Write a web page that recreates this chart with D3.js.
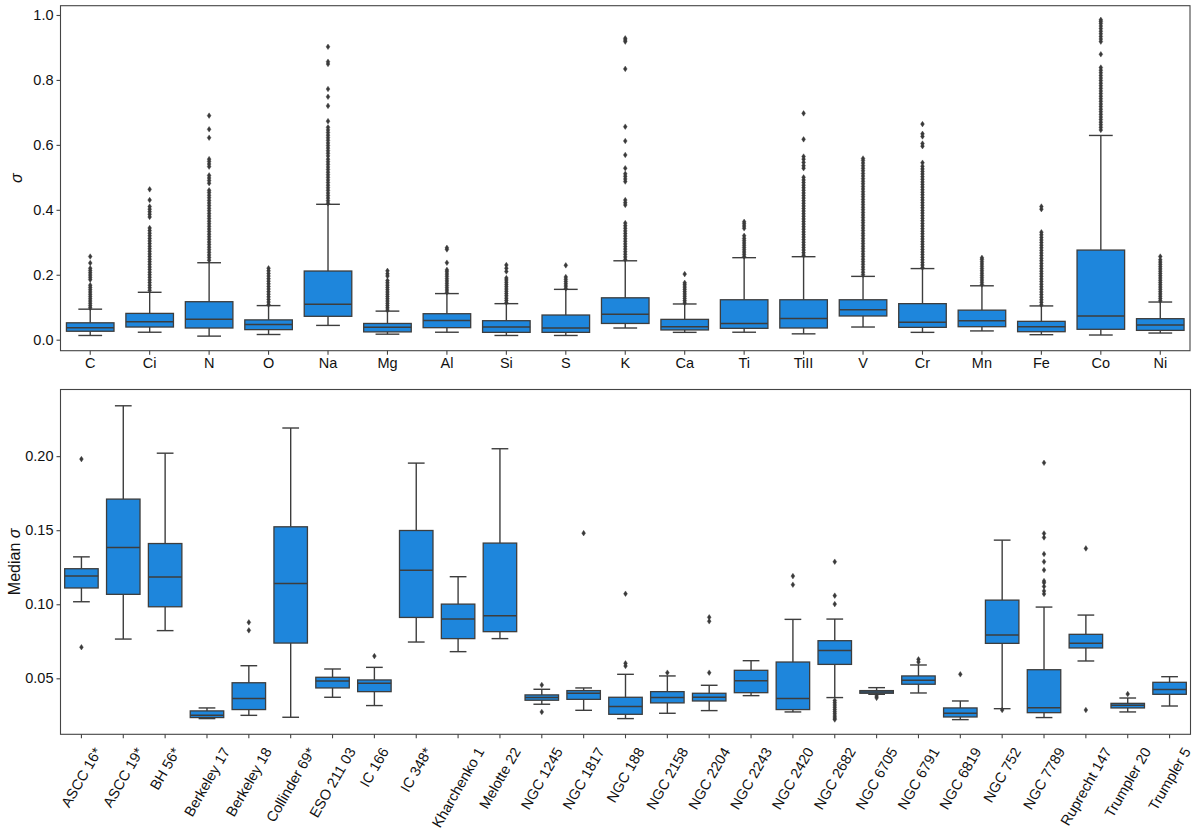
<!DOCTYPE html>
<html><head><meta charset="utf-8">
<script src="https://cdn.jsdelivr.net/npm/d3@7"></script>
<style>
body{margin:0;background:#fff;}
text{font-family:"Liberation Sans",Arial,sans-serif;fill:#111;}
</style></head>
<body><svg id="chart" width="1200" height="835"></svg>
<script>
// ---------- Top panel data ----------
const elements = ["C","Ci","N","O","Na","Mg","Al","Si","S","K","Ca","Ti","TiII","V","Cr","Mn","Fe","Co","Ni"];
// [whiskerLow, Q1, median, Q3, whiskerHigh]
const elemStats = [
  [0.013,0.026,0.037,0.052,0.094],
  [0.023,0.039,0.055,0.081,0.146],
  [0.011,0.036,0.063,0.117,0.237],
  [0.016,0.031,0.047,0.061,0.105],
  [0.044,0.072,0.109,0.2115,0.417],
  [0.017,0.024,0.038,0.050,0.088],
  [0.023,0.037,0.059,0.080,0.142],
  [0.013,0.0226,0.039,0.0585,0.111],
  [0.013,0.0226,0.036,0.076,0.155],
  [0.036,0.050,0.078,0.129,0.243],
  [0.0226,0.030,0.040,0.0626,0.110],
  [0.023,0.035,0.050,0.123,0.2526],
  [0.018,0.036,0.065,0.123,0.2556],
  [0.039,0.073,0.092,0.123,0.195],
  [0.0226,0.038,0.054,0.111,0.219],
  [0.027,0.040,0.0585,0.091,0.166],
  [0.0154,0.0246,0.040,0.0565,0.104],
  [0.0144,0.032,0.073,0.276,0.629],
  [0.0205,0.0287,0.045,0.0647,0.116]
];
const elemOutliers = [
  [0.098,0.105,0.112,0.119,0.126,0.133,0.14,0.147,0.154,0.161,0.168,0.185,0.192,0.199,0.206,0.213,0.22,0.236,0.256],
  [0.152,0.16,0.168,0.176,0.184,0.192,0.2,0.208,0.216,0.224,0.232,0.24,0.248,0.256,0.264,0.272,0.28,0.288,0.296,0.304,0.312,0.32,0.328,0.336,0.344,0.378,0.386,0.394,0.402,0.41,0.43,0.463],
  [0.245,0.253,0.261,0.269,0.277,0.285,0.293,0.301,0.309,0.317,0.325,0.333,0.341,0.349,0.357,0.365,0.373,0.381,0.389,0.397,0.405,0.413,0.421,0.429,0.437,0.445,0.453,0.46,0.482,0.49,0.498,0.506,0.533,0.541,0.549,0.556,0.622,0.648,0.69],
  [0.108,0.116,0.124,0.132,0.14,0.148,0.156,0.164,0.172,0.18,0.188,0.196,0.204,0.212,0.22],
  [0.42,0.428,0.436,0.444,0.452,0.46,0.468,0.476,0.484,0.492,0.5,0.508,0.516,0.524,0.532,0.54,0.548,0.556,0.566,0.574,0.582,0.59,0.598,0.606,0.614,0.622,0.63,0.638,0.646,0.654,0.673,0.72,0.748,0.772,0.849,0.856,0.902],
  [0.091,0.098,0.105,0.112,0.119,0.126,0.133,0.14,0.147,0.154,0.161,0.168,0.175,0.182,0.196,0.203,0.212],
  [0.146,0.153,0.16,0.167,0.174,0.181,0.188,0.195,0.202,0.209,0.215,0.237,0.278,0.283],
  [0.114,0.121,0.128,0.135,0.142,0.149,0.156,0.163,0.17,0.177,0.184,0.19,0.21,0.22,0.23],
  [0.158,0.165,0.172,0.179,0.186,0.193,0.229],
  [0.247,0.255,0.263,0.271,0.279,0.287,0.295,0.303,0.311,0.319,0.327,0.335,0.343,0.351,0.359,0.415,0.422,0.43,0.487,0.495,0.503,0.511,0.528,0.569,0.612,0.656,0.834,0.918,0.923,0.928],
  [0.113,0.12,0.127,0.134,0.141,0.148,0.155,0.162,0.169,0.175,0.202],
  [0.256,0.263,0.27,0.277,0.284,0.291,0.298,0.305,0.312,0.32,0.343,0.35,0.357,0.363],
  [0.26,0.268,0.276,0.284,0.292,0.3,0.308,0.316,0.324,0.332,0.34,0.348,0.356,0.364,0.372,0.38,0.388,0.396,0.404,0.412,0.42,0.428,0.436,0.444,0.452,0.46,0.468,0.476,0.484,0.492,0.5,0.528,0.536,0.546,0.556,0.564,0.617,0.697],
  [0.2,0.208,0.216,0.224,0.232,0.24,0.248,0.256,0.264,0.272,0.28,0.288,0.296,0.304,0.312,0.32,0.328,0.336,0.344,0.352,0.36,0.368,0.376,0.384,0.392,0.4,0.408,0.416,0.424,0.432,0.44,0.448,0.456,0.464,0.472,0.48,0.488,0.496,0.504,0.512,0.52,0.528,0.536,0.544,0.552,0.558],
  [0.222,0.23,0.238,0.246,0.254,0.262,0.27,0.278,0.286,0.294,0.302,0.31,0.318,0.326,0.334,0.342,0.35,0.358,0.366,0.374,0.382,0.39,0.398,0.406,0.414,0.422,0.43,0.438,0.446,0.454,0.462,0.47,0.478,0.486,0.494,0.502,0.51,0.518,0.526,0.534,0.545,0.596,0.604,0.626,0.634,0.664],
  [0.17,0.177,0.184,0.191,0.198,0.205,0.212,0.219,0.226,0.233,0.24,0.247,0.252],
  [0.107,0.115,0.123,0.131,0.139,0.147,0.155,0.163,0.171,0.179,0.187,0.195,0.203,0.211,0.219,0.227,0.235,0.243,0.251,0.259,0.267,0.275,0.283,0.291,0.299,0.307,0.315,0.323,0.331,0.402,0.41],
  [0.646,0.654,0.662,0.67,0.678,0.686,0.694,0.702,0.71,0.718,0.726,0.734,0.742,0.75,0.758,0.766,0.774,0.782,0.79,0.798,0.806,0.814,0.822,0.83,0.838,0.879,0.918,0.926,0.934,0.942,0.95,0.958,0.966,0.974,0.98,0.985],
  [0.12,0.127,0.134,0.141,0.148,0.155,0.162,0.169,0.176,0.183,0.19,0.197,0.204,0.211,0.218,0.225,0.232,0.239,0.246,0.256]
];
const topTicks = [0.0,0.2,0.4,0.6,0.8,1.0];

// ---------- Bottom panel data ----------
const clusters = ["ASCC 16*","ASCC 19*","BH 56*","Berkeley 17","Berkeley 18","Collinder 69*","ESO 211 03","IC 166","IC 348*","Kharchenko 1","Melotte 22","NGC 1245","NGC 1817","NGC 188","NGC 2158","NGC 2204","NGC 2243","NGC 2420","NGC 2682","NGC 6705","NGC 6791","NGC 6819","NGC 752","NGC 7789","Ruprecht 147","Trumpler 20","Trumpler 5"];
const clusterStats = [
  [0.1017,0.111,0.119,0.124,0.132],
  [0.0765,0.1067,0.1384,0.171,0.234],
  [0.0822,0.0983,0.1184,0.141,0.202],
  [0.0228,0.0235,0.025,0.028,0.030],
  [0.025,0.0289,0.0363,0.047,0.0585],
  [0.0237,0.0738,0.114,0.1523,0.219],
  [0.0372,0.0435,0.0482,0.0507,0.0563],
  [0.0316,0.041,0.0466,0.0489,0.0574],
  [0.0745,0.0911,0.1229,0.1498,0.1953],
  [0.068,0.0768,0.090,0.1001,0.1186],
  [0.0768,0.0815,0.0923,0.1413,0.205],
  [0.0325,0.0352,0.037,0.0388,0.0426],
  [0.0284,0.0358,0.040,0.0417,0.0435],
  [0.0228,0.0257,0.0309,0.0372,0.0527],
  [0.0264,0.0334,0.037,0.041,0.0516],
  [0.0282,0.0347,0.0372,0.0399,0.0453],
  [0.0383,0.0403,0.0484,0.0554,0.0619],
  [0.0273,0.0289,0.0363,0.061,0.0898],
  [0.037,0.0594,0.0687,0.0754,0.090],
  [0.0392,0.0399,0.0408,0.0417,0.0437],
  [0.0401,0.046,0.0487,0.0516,0.059],
  [0.0221,0.0239,0.0264,0.030,0.0347],
  [0.0295,0.0736,0.0792,0.1028,0.1433],
  [0.0235,0.0268,0.0302,0.0558,0.0981],
  [0.0617,0.0705,0.0736,0.0797,0.0927],
  [0.0273,0.030,0.0318,0.0331,0.0367],
  [0.0313,0.0392,0.0424,0.0473,0.0511]
];
const clusterOutliers = [
  [0.198,0.071],[],[],[],[0.0878,0.0824],[],[],[0.065],[],[],[],
  [0.0455,0.0273],[0.148],[0.1071,0.0601,0.0583],[0.0538],[0.0912,0.0885,0.0538],[],
  [0.119,0.1132],
  [0.1287,0.1058,0.1001,0.035,0.0335,0.032,0.0305,0.029,0.0275,0.026,0.0245,0.0232,0.0222],
  [0.038,0.0368],[0.0628,0.061],[0.0527],[0.0286],
  [0.1955,0.1478,0.1451,0.1339,0.1287,0.1231,0.1157,0.1145,0.112,0.109,0.107],
  [0.1377,0.0286],[0.0394],[]
];
const bottomTicks = [0.05,0.10,0.15,0.20];

// ---------- Drawing ----------
const svg = d3.select("#chart");
const FILL = "#1e86dc", EDGE = "#3d3d3d", FRAME = "#444";

function panel(cfg){
  const g = svg.append("g");
  const x = d3.scaleBand().domain(cfg.cats).range([cfg.x0,cfg.x1]).paddingInner(0).paddingOuter(0);
  const y = d3.scaleLinear().domain(cfg.domain).range([cfg.y1,cfg.y0]);
  const bw = x.bandwidth()*0.8;
  cfg.cats.forEach((c,i)=>{
    const s = cfg.stats[i];
    const cx = x(c)+x.bandwidth()/2;
    const bg = g.append("g");
    // whiskers
    bg.append("line").attr("x1",cx).attr("x2",cx).attr("y1",y(s[0])).attr("y2",y(s[1])).attr("stroke",EDGE).attr("stroke-width",1.4);
    bg.append("line").attr("x1",cx).attr("x2",cx).attr("y1",y(s[3])).attr("y2",y(s[4])).attr("stroke",EDGE).attr("stroke-width",1.4);
    bg.append("line").attr("x1",cx-bw/4).attr("x2",cx+bw/4).attr("y1",y(s[0])).attr("y2",y(s[0])).attr("stroke",EDGE).attr("stroke-width",1.4);
    bg.append("line").attr("x1",cx-bw/4).attr("x2",cx+bw/4).attr("y1",y(s[4])).attr("y2",y(s[4])).attr("stroke",EDGE).attr("stroke-width",1.4);
    // box
    bg.append("rect").attr("x",cx-bw/2).attr("width",bw).attr("y",y(s[3])).attr("height",Math.max(0.5,y(s[1])-y(s[3])))
      .attr("fill",FILL).attr("stroke",EDGE).attr("stroke-width",1.3);
    bg.append("line").attr("x1",cx-bw/2).attr("x2",cx+bw/2).attr("y1",y(s[2])).attr("y2",y(s[2])).attr("stroke",EDGE).attr("stroke-width",1.5);
    // outliers (thin diamonds)
    bg.selectAll("path.fl").data(cfg.outl[i]).enter().append("path")
      .attr("d",d=>{const yy=y(d);return `M${cx},${yy-2.8}L${cx+1.9},${yy}L${cx},${yy+2.8}L${cx-1.9},${yy}Z`;})
      .attr("fill","#3a3a3a").attr("stroke","#3a3a3a").attr("stroke-width",0.4);
  });
  // frame
  g.append("rect").attr("x",cfg.x0).attr("y",cfg.y0).attr("width",cfg.x1-cfg.x0).attr("height",cfg.y1-cfg.y0)
    .attr("fill","none").attr("stroke",FRAME).attr("stroke-width",1.1);
  // y axis
  const ya = g.append("g").attr("transform",`translate(${cfg.x0},0)`)
    .call(d3.axisLeft(y).tickValues(cfg.ticks).tickFormat(d3.format(cfg.fmt)).tickSize(4).tickPadding(3));
  ya.select(".domain").remove();
  ya.selectAll("line").attr("stroke",FRAME).attr("stroke-width",1.1);
  ya.selectAll("text").style("font-size","14.5px").attr("fill","#111");
  // x axis
  const xa = g.append("g").attr("transform",`translate(0,${cfg.y1})`)
    .call(d3.axisBottom(x).tickSize(4).tickPadding(3));
  xa.select(".domain").remove();
  xa.selectAll("line").attr("stroke",FRAME).attr("stroke-width",1.1);
  xa.selectAll("text").style("font-size","14.5px").attr("fill","#111");
  if(cfg.rotate){
    xa.selectAll(".tick text").each(function(){
      const t = d3.select(this);
      const w = this.getComputedTextLength();
      const h = 11;
      t.attr("text-anchor","end").attr("dy",null).attr("y",null)
       .attr("dominant-baseline","central")
       .attr("transform",`translate(${0.25*w},${7+0.25*h+0.433*h}) rotate(-60)`);
    });
  }
  // y label
  g.append("text").attr("transform",`translate(${cfg.ylx},${(cfg.y0+cfg.y1)/2}) rotate(-90)`)
    .attr("text-anchor","middle").style("font-size","16px").html(cfg.ylabel);
}

panel({cats:elements, stats:elemStats, outl:elemOutliers, x0:60.5, x1:1190, y0:5.7, y1:350.7,
  domain:[-0.0339,1.0286], ticks:topTicks, fmt:".1f", rotate:false, ylx:22,
  ylabel:'<tspan font-style="italic">σ</tspan>'});
panel({cats:clusters, stats:clusterStats, outl:clusterOutliers, x0:60.5, x1:1190.5, y0:389.5, y1:734.3,
  domain:[0.0122,0.245], ticks:bottomTicks, fmt:".2f", rotate:true, ylx:20,
  ylabel:'Median <tspan font-style="italic">σ</tspan>'});
</script></body></html>
